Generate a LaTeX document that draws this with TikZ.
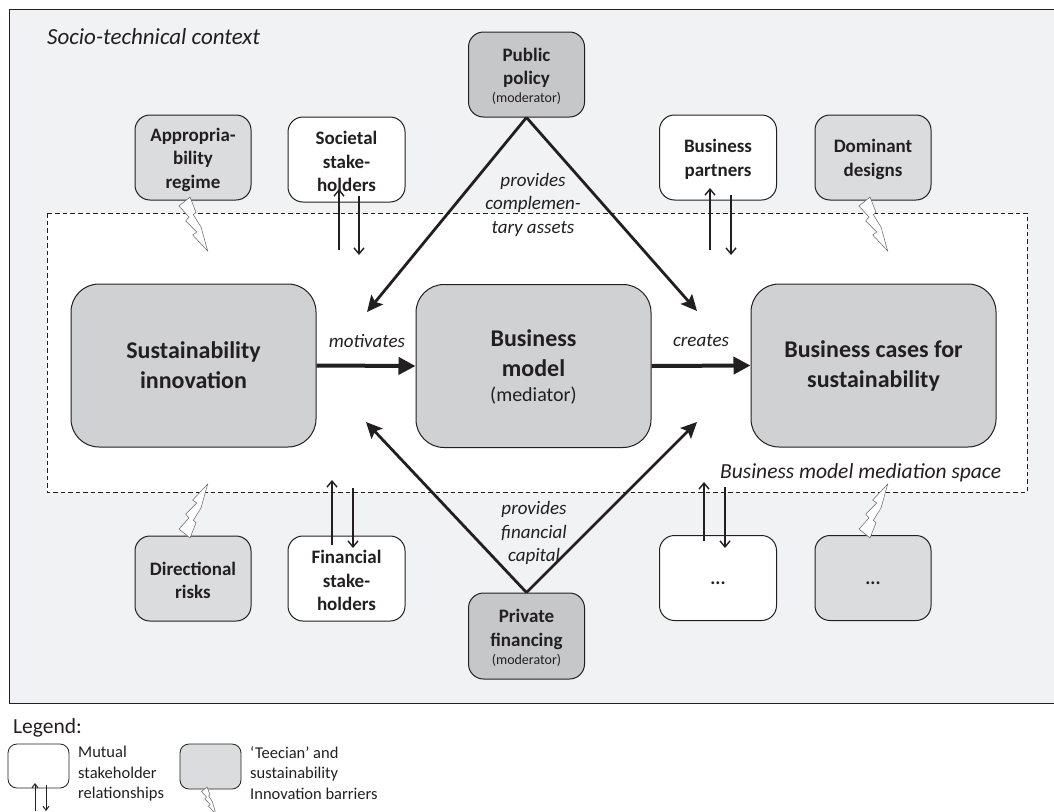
\documentclass[tikz,border=0pt]{standalone}
\usepackage{fontspec}
\setmainfont{Carlito}
\usetikzlibrary{arrows.meta}
\definecolor{ctx}{HTML}{F1F2F4}
\definecolor{barr}{HTML}{DBDCDE}
\definecolor{core}{HTML}{D0D1D3}
\definecolor{moder}{HTML}{C6C7C9}
\definecolor{ink}{HTML}{231F20}
\tikzset{
 x=1pt,y=-1pt,
 every node/.style={text=ink},
 boxb/.style={draw=ink,line width=1pt,rounded corners=15pt,align=center,inner sep=0pt},
 boxtext/.style={font=\fontsize{19}{23.5}\selectfont\bfseries,align=center,inner sep=0pt,yshift=-2pt,text=ink},
 stake/.style={boxb,fill=white,minimum width=117pt,minimum height=85pt},
 barrier/.style={boxb,fill=barr,minimum width=116pt,minimum height=85pt},
 moderator/.style={boxb,fill=moder,minimum width=116pt,minimum height=86pt},
 corebox/.style={boxb,fill=core,rounded corners=28pt,minimum height=163pt,font=\fontsize{24}{30}\selectfont\bfseries},
 thick arr/.style={draw=ink,line width=2.8pt,-{Stealth[inset=3pt,length=16pt,width=15pt]}},
 main arr/.style={draw=ink,line width=4pt,-{Triangle[length=17pt,width=17pt]}},
 thin arr/.style={draw=ink,line width=1.4pt,-{Straight Barb[length=6pt,width=10pt]}},
 tiny arr/.style={draw=ink,line width=1pt,-{Straight Barb[length=4pt,width=6pt]}},
 bolt/.style={draw=ink!70,fill=white,line width=0.5pt},
 lab/.style={font=\fontsize{19}{23.5}\selectfont\itshape,align=center,inner sep=0pt},
 leg/.style={font=\fontsize{16.5}{20.5}\selectfont,align=left,anchor=north west,inner sep=0pt},
}
\newcommand{\boltshape}{(0,0) -- (-11,9) -- (-1,20) -- (-4.3,24) -- (6.7,35) -- (2.7,38) -- (17.7,54) -- (11,30) -- (3.3,17.7) -- (6,15.3) -- cycle}
\begin{document}
\begin{tikzpicture}
\useasboundingbox (0,0) rectangle (1054,811);
\fill[ctx] (9,9) rectangle (1054,703);
\draw[ink,line width=0.9pt] (1054,9) -- (9,9) -- (9,703) -- (1054,703);
\fill[white] (47,213) rectangle (1027,492);
\draw[ink,line width=0.8pt,dash pattern=on 4.5pt off 3pt] (47,213) rectangle (1027,492);

\node[lab,anchor=west,font=\fontsize{23}{26}\selectfont\itshape] (ctxl) at (47,37) {Socio-technical context};
\node[lab,anchor=west,font=\fontsize{21.5}{26}\selectfont\itshape] (spacel) at (720,473) {Business model mediation space};

\node[corebox,minimum width=245pt] (si) at (193.5,365.5) {Sustainability\\innovation};
\node[corebox,minimum width=235pt] (bm) at (533.5,366) {};
\path node[label={[corebox,draw=none,fill=none,minimum height=0pt,yshift=-1pt]center:{Business\\model\\[-5pt]{\fontsize{20}{24}\selectfont\mdseries (mediator)}}}] (bmc) at (bm.center) {};
\node[corebox,minimum width=245pt] (bc) at (873.5,365.5) {Business cases for\\sustainability};

\node[moderator,minimum height=85pt,label={[boxtext]center:{Public\\policy\\[-5.5pt]{\fontsize{14}{15}\selectfont\mdseries (moderator)}}}] (pp) at (526.5,74.5) {};
\node[moderator,label={[boxtext]center:{Private\\financing\\[-5.5pt]{\fontsize{14}{15}\selectfont\mdseries (moderator)}}}] (pf) at (526.5,636) {};

\node[barrier,label={[boxtext]center:{Appropria-\\bility\\regime}}] (ar) at (193,157.5) {};
\node[stake,label={[boxtext]center:{Societal\\stake-\\holders}}] (ss) at (346.5,159.5) {};
\node[stake,label={[boxtext]center:{Business\\partners}}] (bp) at (718,157.5) {};
\node[barrier,label={[boxtext]center:{Dominant\\designs}}] (dd) at (873,157.5) {};
\node[barrier,label={[boxtext]center:{Directional\\risks}}] (dr) at (193,578.5) {};
\node[stake,label={[boxtext]center:{Financial\\stake-\\holders}}] (fs) at (346.5,578.5) {};
\node[stake,label={[boxtext,yshift=-3pt]center:{...}}] (e1) at (718,578) {};
\node[barrier,label={[boxtext,yshift=-3pt]center:{...}}] (e2) at (873,578) {};

% bolts
\draw[bolt,shift={(190,197)}] \boltshape;
\draw[bolt,shift={(870,197)}] \boltshape;
\draw[bolt,shift={(190,538)},yscale=-1] \boltshape;
\draw[bolt,shift={(870,538)},yscale=-1] \boltshape;

% thick arrows
\coordinate (pl) at (367,312); \coordinate (pr) at (697,311);
\coordinate (fl) at (366,422); \coordinate (fr) at (697,422);
\draw[thick arr] (pp.south) -- (pl);
\draw[thick arr] (pp.south) -- (pr);
\draw[thick arr] (pf.north) -- (fl);
\draw[thick arr] (pf.north) -- (fr);
\draw[main arr] (si.east) -- (bm.west);
\draw[main arr] (bm.east) -- (bc.west);

% stakeholder arrows
\coordinate (a1) at (339,250); \coordinate (a2) at (339,189);
\coordinate (a3) at (359,196); \coordinate (a4) at (359,255);
\draw[thin arr] (a1) -- (a2); \draw[thin arr] (a3) -- (a4);
\coordinate (b1) at (710,250); \coordinate (b2) at (710,188);
\coordinate (b3) at (731,195); \coordinate (b4) at (731,255);
\draw[thin arr] (b1) -- (b2); \draw[thin arr] (b3) -- (b4);
\coordinate (c1) at (332,545); \coordinate (c2) at (332,480);
\coordinate (c3) at (353,488); \coordinate (c4) at (353,548);
\draw[thin arr] (c1) -- (c2); \draw[thin arr] (c3) -- (c4);
\coordinate (d1) at (704,541); \coordinate (d2) at (704,482);
\coordinate (d3) at (725,487); \coordinate (d4) at (725,548);
\draw[thin arr] (d1) -- (d2); \draw[thin arr] (d3) -- (d4);

\node[lab] (mot) at (367,341) {motivates};
\node[lab] (cre) at (701,341) {creates};
\node[lab] (pca) at (533,204.5) {provides\\complemen-\\tary assets};
\node[lab] (pfc) at (534,533) {provides\\financial\\capital};

% legend
\node[leg,font=\fontsize{21.5}{26}\selectfont,anchor=west] (lg) at (13,728) {Legend:};
\node[boxb,fill=white,rounded corners=9pt,minimum width=61pt,minimum height=44pt,line width=0.8pt] (l1) at (38.5,766) {};
\node[boxb,fill=barr,rounded corners=9pt,minimum width=61pt,minimum height=45pt,line width=0.8pt] (l2) at (210.5,766.5) {};
\node[leg] (t1) at (78,746) {Mutual\\stakeholder\\relationships};
\node[leg] (t2) at (250,746) {‘Teecian’ and\\sustainability\\Innovation barriers};
\coordinate (e1a) at (35,811); \coordinate (e1b) at (35,783);
\coordinate (e2a) at (46,785); \coordinate (e2b) at (46,811);
\draw[tiny arr] (e1a) -- (e1b); \draw[tiny arr] (e2a) -- (e2b);
\begin{scope}
\clip (0,700) rectangle (1054,811);
\draw[bolt,shift={(207,787)},scale=0.5] \boltshape;
\end{scope}
\end{tikzpicture}
\end{document}
